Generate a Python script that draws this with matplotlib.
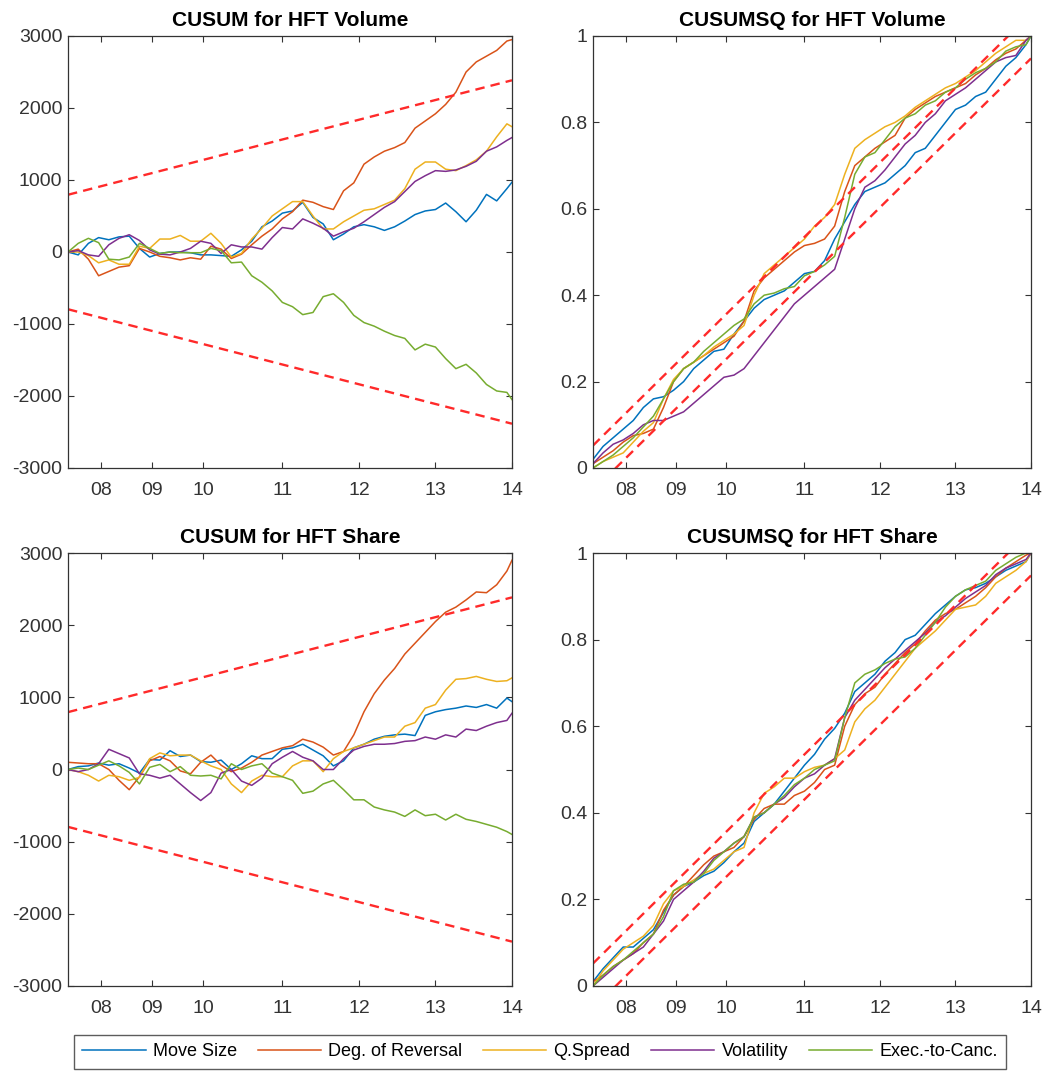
import numpy as np
import matplotlib
matplotlib.use("Agg")
import matplotlib.pyplot as plt

plt.rcParams["font.family"] = ["Liberation Sans", "DejaVu Sans"]
plt.rcParams["axes.unicode_minus"] = False

# observation index (x axis), ticks at the first observation of each year
obs = list(range(0, 173, 4)) + [174]
year_idx = [13, 33, 53, 84, 114, 144, 174]
year_lbl = ["08", "09", "10", "11", "12", "13", "14"]

series_names = ["Move Size", "Deg. of Reversal", "Q.Spread", "Volatility", "Exec.-to-Canc."]
series_colors = ["#0072BD", "#D95319", "#EDB120", "#7E2F8E", "#77AC30"]

# ---- CUSUM for HFT Volume
cusum_vol_move = [0, -40, 120, 200, 170, 210, 220, 50, -70, -20, 0, 0, -10, -40, -40, -50,
                  -60, 30, 150, 350, 430, 540, 570, 690, 480, 390, 170, 250, 350, 380, 350,
                  300, 350, 430, 520, 570, 590, 680, 560, 420, 580, 800, 710, 880, 970]
cusum_vol_rev = [0, 40, -100, -330, -270, -210, -190, 50, 0, -60, -80, -110, -80, -100, 80, 40,
                 -90, -30, 100, 220, 320, 460, 560, 720, 690, 630, 590, 850, 960, 1220, 1320,
                 1400, 1450, 1520, 1720, 1820, 1920, 2050, 2220, 2500, 2640, 2720, 2800, 2930, 2950]
cusum_vol_spread = [0, 0, -50, -150, -110, -170, -170, 80, 50, 180, 180, 230, 150, 150, 260, 120,
                    -70, -20, 180, 330, 500, 600, 700, 700, 500, 320, 320, 420, 500, 580, 600,
                    660, 720, 880, 1150, 1250, 1250, 1150, 1130, 1200, 1280, 1400, 1600, 1780, 1740]
cusum_vol_vola = [0, 20, -40, -60, 100, 190, 240, 160, 30, -30, -40, 0, 50, 150, 120, -20,
                  100, 70, 70, 40, 200, 340, 320, 460, 400, 330, 220, 280, 330, 420, 520,
                  620, 700, 840, 980, 1060, 1130, 1120, 1140, 1190, 1260, 1400, 1460, 1550, 1590]
cusum_vol_e2c = [0, 120, 190, 130, -100, -110, -70, 120, 50, -20, 0, -10, -10, -10, 50, 20,
                 -150, -140, -330, -420, -540, -700, -760, -870, -840, -620, -580, -700, -880, -980, -1030,
                 -1100, -1160, -1200, -1360, -1280, -1320, -1480, -1620, -1560, -1680, -1840, -1930, -1950, -2050]

# ---- CUSUM for HFT Share
cusum_sh_move = [0, 40, 50, 90, 60, 80, 20, -50, 140, 130, 260, 180, 200, 110, 100, 130,
                 0, 80, 190, 150, 150, 280, 300, 350, 270, 190, 50, 120, 300, 350, 420,
                 460, 480, 490, 470, 750, 800, 830, 850, 880, 860, 900, 850, 990, 940]
cusum_sh_rev = [100, 90, 80, 80, 0, -150, -280, -100, 120, 180, 120, -20, -60, 100, 200, 60,
                -30, 20, 100, 200, 250, 300, 330, 420, 380, 310, 200, 250, 480, 800, 1050,
                1240, 1400, 1600, 1750, 1900, 2050, 2180, 2250, 2350, 2460, 2450, 2560, 2750, 2900]
cusum_sh_spread = [0, -30, -80, -160, -80, -100, -150, -110, 150, 230, 190, 200, 200, 120, 50, 0,
                   -200, -320, -160, -80, -100, -100, 50, 120, 120, -30, 150, 250, 300, 350, 400,
                   450, 450, 600, 650, 850, 900, 1100, 1250, 1260, 1290, 1250, 1220, 1230, 1270]
cusum_sh_vola = [0, -30, 0, 80, 280, 220, 160, -60, -80, -120, -80, -200, -320, -430, -320, -50,
                 0, -160, -220, -120, 80, 170, 250, 170, 120, 0, 0, 150, 270, 320, 350,
                 350, 360, 390, 400, 450, 420, 480, 450, 560, 540, 600, 650, 680, 780]
cusum_sh_e2c = [0, 20, 0, 60, 120, 50, -40, -200, 30, 70, -30, 40, -80, -90, -80, -130,
                80, 0, 50, 80, -50, -100, -150, -330, -300, -200, -150, -280, -420, -420, -520,
                -560, -590, -650, -560, -640, -620, -700, -620, -690, -720, -760, -800, -860, -900]

# ---- CUSUMSQ for HFT Volume
sq_vol_move = [0.02, 0.05, 0.07, 0.09, 0.11, 0.14, 0.16, 0.165, 0.18, 0.20, 0.23, 0.25, 0.27, 0.275,
               0.31, 0.34, 0.37, 0.39, 0.40, 0.41, 0.43, 0.45, 0.455, 0.48, 0.53, 0.57, 0.61, 0.64,
               0.65, 0.66, 0.68, 0.70, 0.73, 0.74, 0.77, 0.80, 0.83, 0.84, 0.86, 0.87, 0.90, 0.93,
               0.95, 0.98, 1.0]
sq_vol_rev = [0.01, 0.025, 0.04, 0.06, 0.075, 0.08, 0.09, 0.14, 0.20, 0.23, 0.245, 0.26, 0.275, 0.29,
              0.305, 0.34, 0.41, 0.44, 0.46, 0.48, 0.50, 0.515, 0.52, 0.53, 0.56, 0.64, 0.70, 0.72,
              0.74, 0.755, 0.77, 0.81, 0.83, 0.845, 0.86, 0.87, 0.88, 0.89, 0.91, 0.925, 0.945, 0.96,
              0.97, 0.99, 1.0]
sq_vol_spread = [0.0, 0.015, 0.025, 0.035, 0.06, 0.085, 0.105, 0.16, 0.205, 0.23, 0.245, 0.26, 0.28,
                 0.295, 0.31, 0.33, 0.40, 0.45, 0.47, 0.49, 0.51, 0.53, 0.56, 0.58, 0.61, 0.68, 0.74,
                 0.76, 0.775, 0.79, 0.80, 0.815, 0.835, 0.85, 0.865, 0.88, 0.89, 0.905, 0.92, 0.94,
                 0.96, 0.975, 0.99, 0.99, 1.0]
sq_vol_vola = [0.01, 0.035, 0.055, 0.065, 0.08, 0.10, 0.11, 0.11, 0.12, 0.13, 0.15, 0.17, 0.19, 0.21,
               0.215, 0.23, 0.26, 0.29, 0.32, 0.35, 0.38, 0.40, 0.42, 0.44, 0.46, 0.53, 0.60, 0.65,
               0.665, 0.69, 0.72, 0.75, 0.77, 0.80, 0.82, 0.85, 0.865, 0.88, 0.90, 0.92, 0.94, 0.95,
               0.955, 0.99, 1.0]
sq_vol_e2c = [0.0, 0.015, 0.03, 0.05, 0.07, 0.095, 0.12, 0.16, 0.20, 0.23, 0.245, 0.27, 0.29, 0.31,
              0.33, 0.345, 0.38, 0.40, 0.405, 0.415, 0.42, 0.445, 0.455, 0.47, 0.49, 0.58, 0.68, 0.72,
              0.73, 0.76, 0.79, 0.81, 0.82, 0.84, 0.85, 0.87, 0.88, 0.90, 0.915, 0.925, 0.94, 0.965,
              0.975, 0.98, 1.0]

# ---- CUSUMSQ for HFT Share
sq_sh_move = [0.01, 0.04, 0.065, 0.09, 0.09, 0.11, 0.13, 0.17, 0.21, 0.23, 0.24, 0.255, 0.265, 0.285,
              0.31, 0.33, 0.38, 0.40, 0.42, 0.45, 0.48, 0.51, 0.535, 0.57, 0.595, 0.63, 0.68, 0.70,
              0.72, 0.75, 0.77, 0.80, 0.81, 0.835, 0.86, 0.88, 0.90, 0.915, 0.92, 0.93, 0.945, 0.96,
              0.97, 0.98, 1.0]
sq_sh_rev = [0.01, 0.025, 0.045, 0.06, 0.075, 0.10, 0.12, 0.175, 0.21, 0.23, 0.255, 0.28, 0.30, 0.31,
             0.32, 0.345, 0.385, 0.41, 0.42, 0.42, 0.44, 0.45, 0.47, 0.50, 0.51, 0.60, 0.65, 0.675,
             0.69, 0.72, 0.745, 0.77, 0.79, 0.82, 0.845, 0.86, 0.87, 0.885, 0.90, 0.92, 0.945, 0.965,
             0.98, 0.995, 1.0]
sq_sh_spread = [0.0, 0.035, 0.06, 0.085, 0.10, 0.115, 0.14, 0.19, 0.22, 0.23, 0.245, 0.26, 0.27, 0.29,
                0.31, 0.32, 0.40, 0.445, 0.46, 0.48, 0.48, 0.495, 0.505, 0.51, 0.525, 0.545, 0.61,
                0.64, 0.66, 0.69, 0.72, 0.75, 0.78, 0.80, 0.82, 0.845, 0.87, 0.875, 0.88, 0.90, 0.93,
                0.945, 0.96, 0.98, 1.0]
sq_sh_vola = [0.0, 0.02, 0.04, 0.06, 0.075, 0.09, 0.12, 0.15, 0.20, 0.22, 0.24, 0.265, 0.295, 0.31,
              0.33, 0.345, 0.39, 0.40, 0.42, 0.435, 0.46, 0.48, 0.49, 0.51, 0.525, 0.62, 0.66, 0.685,
              0.71, 0.735, 0.755, 0.775, 0.795, 0.815, 0.84, 0.855, 0.875, 0.895, 0.91, 0.925, 0.95,
              0.965, 0.975, 0.985, 1.0]
sq_sh_e2c = [0.0, 0.025, 0.045, 0.06, 0.08, 0.10, 0.12, 0.16, 0.22, 0.235, 0.24, 0.26, 0.29, 0.31,
             0.33, 0.345, 0.39, 0.40, 0.42, 0.44, 0.465, 0.48, 0.50, 0.51, 0.52, 0.62, 0.70, 0.72,
             0.73, 0.745, 0.755, 0.76, 0.78, 0.81, 0.84, 0.875, 0.90, 0.915, 0.925, 0.935, 0.96,
             0.975, 0.99, 1.0, 1.0]

# 5% critical lines
cusum_bound = [795, 2385]      # value at first and last observation
sq_band = 0.052

panels = [
    ("CUSUM for HFT Volume", "cusum",
     [cusum_vol_move, cusum_vol_rev, cusum_vol_spread, cusum_vol_vola, cusum_vol_e2c]),
    ("CUSUMSQ for HFT Volume", "sq",
     [sq_vol_move, sq_vol_rev, sq_vol_spread, sq_vol_vola, sq_vol_e2c]),
    ("CUSUM for HFT Share", "cusum",
     [cusum_sh_move, cusum_sh_rev, cusum_sh_spread, cusum_sh_vola, cusum_sh_e2c]),
    ("CUSUMSQ for HFT Share", "sq",
     [sq_sh_move, sq_sh_rev, sq_sh_spread, sq_sh_vola, sq_sh_e2c]),
]

W, H = 1050, 1072
fig = plt.figure(figsize=(W / 100, H / 100), dpi=100)
boxes = [(68, 36, 512, 468), (593, 36, 1031, 468),
         (68, 553, 512, 986), (593, 553, 1031, 986)]

txt = "#333333"
red = "#ff2a2a"
handles = []
for (title, kind, data), (l, t, r, b) in zip(panels, boxes):
    ax = fig.add_axes([l / W, 1 - b / H, (r - l) / W, (b - t) / H])
    for vals, name, col in zip(data, series_names, series_colors):
        h, = ax.plot(obs, vals, color=col, lw=1.1, label=name)
        if len(handles) < 5:
            handles.append(h)
    x_end = [obs[0], obs[-1]]
    if kind == "cusum":
        ax.plot(x_end, cusum_bound, color=red, lw=1.7, dashes=(4, 2.6))
        ax.plot(x_end, [-v for v in cusum_bound], color=red, lw=1.7, dashes=(4, 2.6))
        ax.set_ylim(-3000, 3000)
        ax.set_yticks([-3000, -2000, -1000, 0, 1000, 2000, 3000])
    else:
        ax.plot(x_end, [sq_band, 1 + sq_band], color=red, lw=1.7, dashes=(4, 2.6))
        ax.plot(x_end, [-sq_band, 1 - sq_band], color=red, lw=1.7, dashes=(4, 2.6))
        ax.set_ylim(0, 1)
        ax.set_yticks([0, 0.2, 0.4, 0.6, 0.8, 1])
        ax.set_yticklabels(["0", "0.2", "0.4", "0.6", "0.8", "1"])
    ax.set_xlim(obs[0], obs[-1])
    ax.set_xticks(year_idx)
    ax.set_xticklabels(year_lbl)
    ax.tick_params(direction="in", top=True, right=True, length=4, width=0.8,
                   labelsize=14, colors=txt)
    ax.tick_params(axis="x", pad=10)
    ax.tick_params(axis="y", pad=4)
    for s in ax.spines.values():
        s.set_color(txt)
        s.set_linewidth(0.9)
    ax.set_title(title, fontsize=15, fontweight="bold", color="black", pad=7)

fig.legend(handles=handles, loc="center", bbox_to_anchor=(540 / W, 1 - 1052 / H),
           ncol=5, fontsize=13, frameon=True, fancybox=False, edgecolor="#333333",
           handlelength=3.5, handletextpad=0.4, columnspacing=1.15, borderpad=0.45,
           borderaxespad=0)

fig.savefig("out.png", dpi=100)
